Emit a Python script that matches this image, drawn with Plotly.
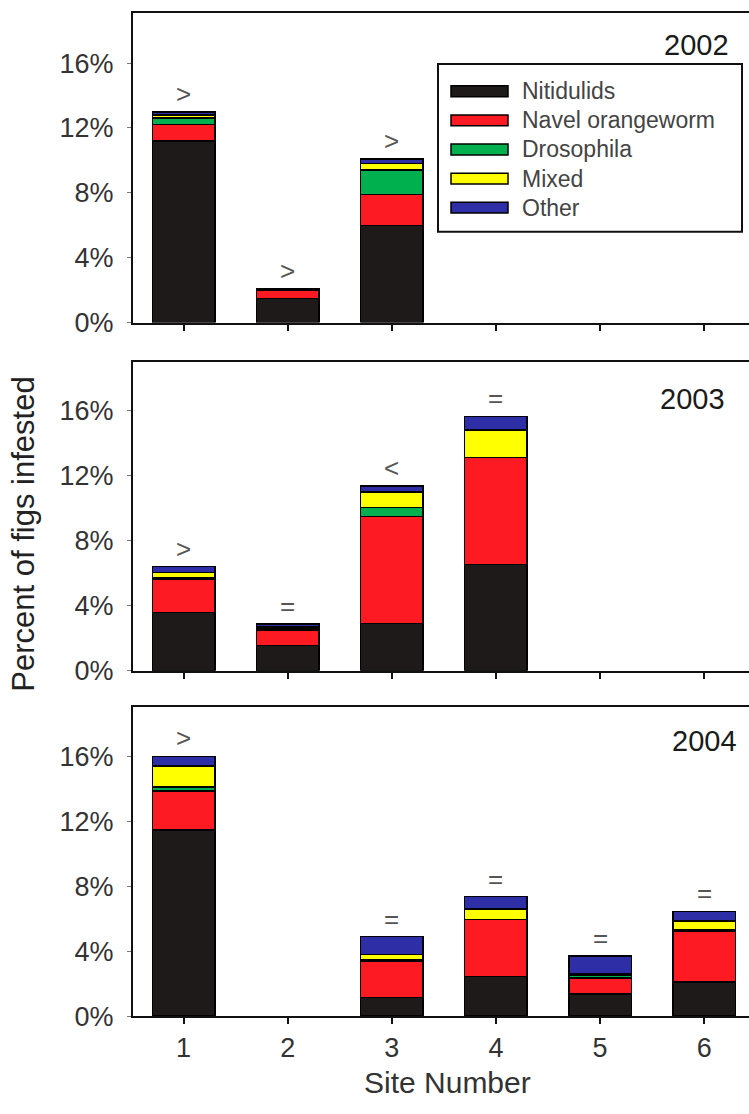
import plotly.graph_objects as go

W, H = 749, 1114

# ---------------- data (percent of figs infested) ----------------
categories = ["Nitidulids", "Navel orangeworm", "Drosophila", "Mixed", "Other"]
colors = ["#1e1a1a", "#fe1a23", "#00b04f", "#ffff00", "#2e2ea6"]

sites_2002 = [1, 2, 3]
nitidulids_2002 = [11.2, 1.5, 6.0]
navel_2002 = [1.0, 0.5, 1.9]
drosophila_2002 = [0.4, 0.0, 1.5]
mixed_2002 = [0.2, 0.0, 0.4]
other_2002 = [0.2, 0.1, 0.3]
signs_2002 = [">", ">", ">"]

sites_2003 = [1, 2, 3, 4]
nitidulids_2003 = [3.6, 1.55, 2.9, 6.55]
navel_2003 = [2.05, 0.97, 6.6, 6.55]
drosophila_2003 = [0.05, 0.1, 0.55, 0.0]
mixed_2003 = [0.35, 0.1, 0.95, 1.7]
other_2003 = [0.35, 0.15, 0.35, 0.85]
signs_2003 = [">", "=", "<", "="]

# site 2 has no bar in 2004
sites_2004 = [1, 2, 3, 4, 5, 6]
nitidulids_2004 = [11.45, None, 1.15, 2.45, 1.35, 2.1]
navel_2004 = [2.4, None, 2.2, 3.5, 1.0, 3.15]
drosophila_2004 = [0.25, None, 0.1, 0.0, 0.15, 0.05]
mixed_2004 = [1.3, None, 0.35, 0.65, 0.1, 0.55]
other_2004 = [0.6, None, 1.1, 0.75, 1.1, 0.6]
signs_2004 = [">", "", "=", "=", "=", "="]

years = ["2002", "2003", "2004"]
y_ticks = [0, 4, 8, 12, 16]
y_tick_labels = ["0%", "4%", "8%", "12%", "16%"]
x_ticks = [1, 2, 3, 4, 5, 6]
x_tick_labels = ["1", "2", "3", "4", "5", "6"]

panels = [
    (sites_2002, [nitidulids_2002, navel_2002, drosophila_2002, mixed_2002, other_2002], signs_2002),
    (sites_2003, [nitidulids_2003, navel_2003, drosophila_2003, mixed_2003, other_2003], signs_2003),
    (sites_2004, [nitidulids_2004, navel_2004, drosophila_2004, mixed_2004, other_2004], signs_2004),
]

FONT = "Arial, Liberation Sans, Helvetica, sans-serif"


def px_x(x):
    return x / W


def px_y(y):
    return 1 - y / H


# panel pixel geometry (top, bottom)
panel_px = [(13, 327), (366.7, 680), (716.7, 1030)]
y_tops = [19.1, 19.0, 19.03]
year_pos = [(731, 46), (727, 404.5), (739, 751)]

fig = go.Figure()
annotations = []
shapes = []

for i, (sites, series, signs) in enumerate(panels):
    xa = "x" if i == 0 else f"x{i+1}"
    ya = "y" if i == 0 else f"y{i+1}"
    for cat, col, vals in zip(categories, colors, series):
        fig.add_trace(go.Bar(
            x=sites, y=vals, name=cat, xaxis=xa, yaxis=ya,
            marker=dict(color=col, line=dict(color="#000000", width=1.5)),
            width=0.6, showlegend=False,
        ))
    totals = [sum(x for x in v if x is not None) for v in zip(*series)]
    for s, t, sg in zip(sites, totals, signs):
        if sg:
            annotations.append(dict(
                x=s, y=t, xref=xa, yref=ya, text=sg, showarrow=False,
                yanchor="middle", yshift=18,
                font=dict(family=FONT, size=26, color="#555555"),
            ))
    # year label
    yx, yy = year_pos[i]
    annotations.append(dict(
        x=px_x(yx), y=px_y(yy), xref="paper", yref="paper", text=years[i],
        showarrow=False, xanchor="right", yanchor="middle",
        font=dict(family=FONT, size=29, color="#1a1a1a"),
    ))

layout_axes = {}
for i in range(3):
    top, bot = panel_px[i]
    xkey = "xaxis" if i == 0 else f"xaxis{i+1}"
    ykey = "yaxis" if i == 0 else f"yaxis{i+1}"
    ya = "y" if i == 0 else f"y{i+1}"
    xa = "x" if i == 0 else f"x{i+1}"
    layout_axes[xkey] = dict(
        domain=[133 / W, 1], range=[0.515, 6.43], anchor=ya,
        tickmode="array", tickvals=x_ticks, ticktext=x_tick_labels,
        showticklabels=(i == 2), ticks="outside", ticklen=6, tickwidth=2,
        tickcolor="#111111", showline=True, linecolor="#111111", linewidth=2,
        mirror=True, showgrid=False, zeroline=False,
        tickfont=dict(family=FONT, size=27, color="#333333"),
    )
    layout_axes[ykey] = dict(
        domain=[px_y(bot), px_y(top)], range=[0, y_tops[i]], anchor=xa,
        tickmode="array", tickvals=y_ticks, ticktext=y_tick_labels,
        ticks="outside", ticklen=4, tickwidth=1, tickcolor="#777777",
        showline=True, linecolor="#111111", linewidth=2, mirror=False,
        showgrid=False, zeroline=False, ticklabelstandoff=8,
        tickfont=dict(family=FONT, size=27, color="#333333"),
    )

# axis titles
annotations.append(dict(
    x=px_x(24), y=px_y(542), xref="paper", yref="paper",
    text="Percent of figs infested", textangle=-90, showarrow=False,
    xanchor="center", yanchor="middle",
    font=dict(family=FONT, size=31, color="#222222"),
))
annotations.append(dict(
    x=px_x(447), y=px_y(1097), xref="paper", yref="paper",
    text="Site Number", showarrow=False, xanchor="center", yanchor="middle",
    font=dict(family=FONT, size=30, color="#333333"),
))

# custom legend (box, swatches, labels)
shapes.append(dict(
    type="rect", xref="paper", yref="paper",
    x0=px_x(438), x1=px_x(742), y0=px_y(235), y1=px_y(65),
    line=dict(color="#111111", width=2), fillcolor="white", layer="above",
))
row_y = [92.5, 122, 151.5, 181, 210.5]
for cat, col, ry in zip(categories, colors, row_y):
    shapes.append(dict(
        type="rect", xref="paper", yref="paper",
        x0=px_x(451), x1=px_x(508), y0=px_y(ry + 5.5), y1=px_y(ry - 5.5),
        line=dict(color="#000000", width=1.5), fillcolor=col, layer="above",
    ))
    annotations.append(dict(
        x=px_x(520), y=px_y(ry), xref="paper", yref="paper", text=cat,
        showarrow=False, xanchor="left", yanchor="middle",
        font=dict(family=FONT, size=23, color="#444444"),
    ))

fig.update_layout(
    width=W, height=H, margin=dict(l=0, r=0, t=0, b=0),
    paper_bgcolor="white", plot_bgcolor="white",
    barmode="stack", bargap=0.4,
    annotations=annotations, shapes=shapes,
    **layout_axes,
)

fig.write_html("out.html", config={"displayModeBar": False},
               post_script="document.body.style.margin='0';")
